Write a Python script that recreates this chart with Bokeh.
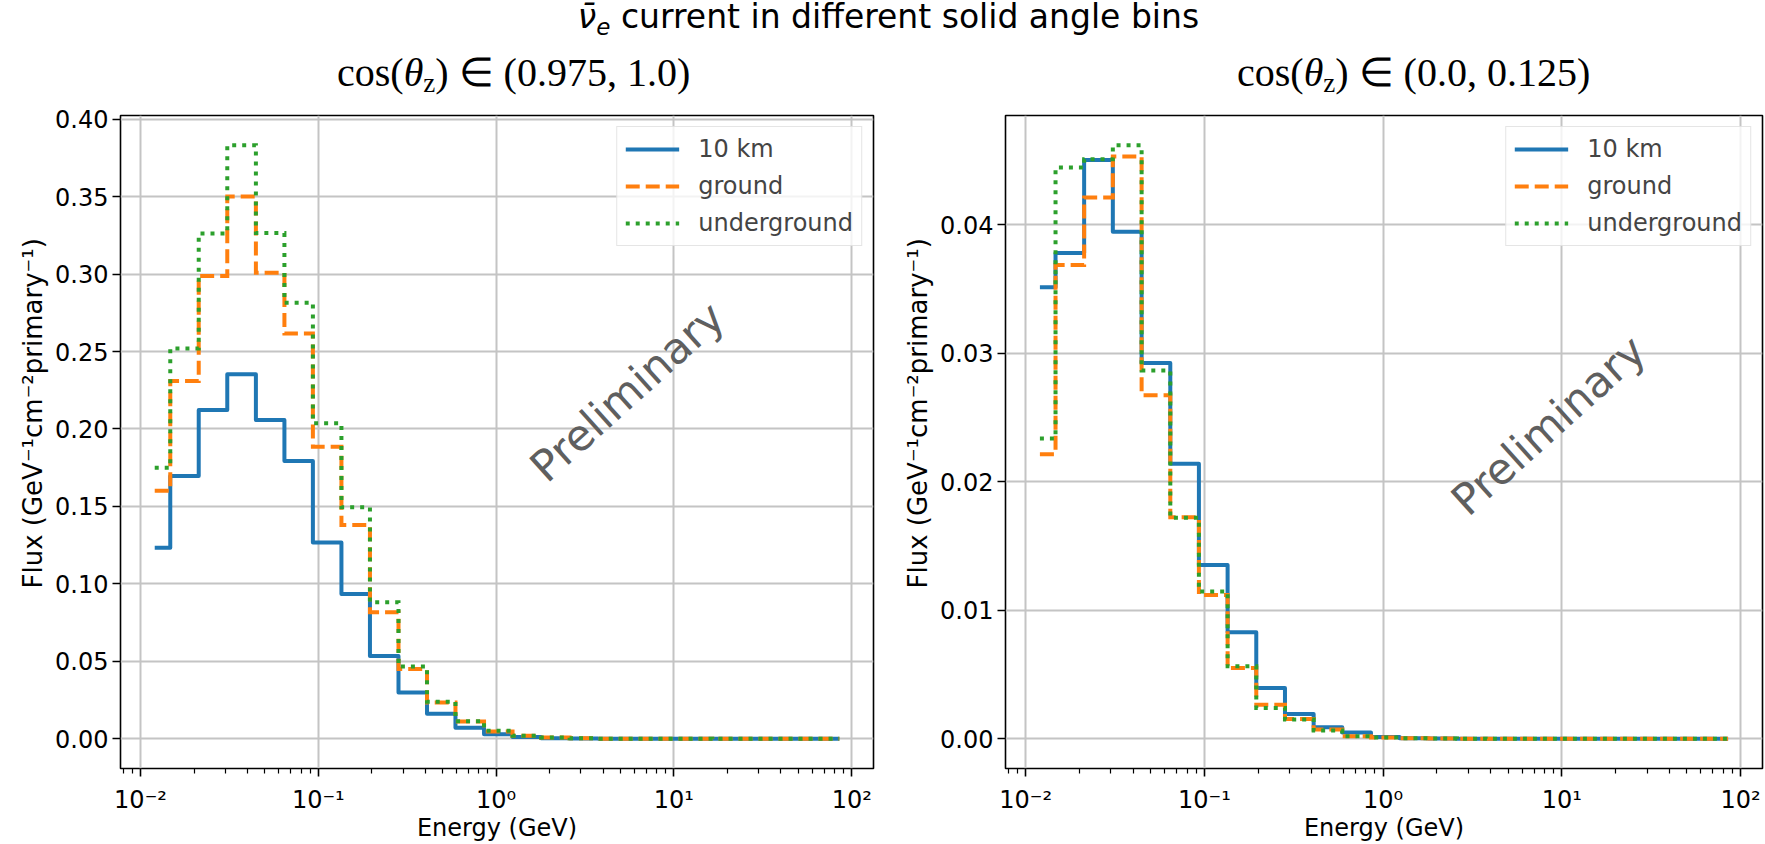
import math
from bokeh.plotting import figure
from bokeh.models import (Range1d, FixedTicker, NumeralTickFormatter, Legend,
                          LegendItem, Label, Div, Title)
from bokeh.layouts import row, column
from bokeh.embed import file_html
from bokeh.resources import INLINE

# ---------------- data ----------------
energy_gev = [0.01202, 0.01738, 0.02512, 0.03639, 0.05272, 0.07621, 0.1102,
              0.1596, 0.2307, 0.3342, 0.4831, 0.6982, 1.012, 1.462, 2.118,
              3.062, 4.426, 6.412, 9.268, 13.43, 19.41, 28.05, 40.64, 58.75,
              85.11]

series_names = ["10 km", "ground", "underground"]
series_colors = ["#1f77b4", "#ff7f0e", "#2ca02c"]
series_dashes = ["solid", "14 6", "4 6"]

# cos(theta_z) in (0.975, 1.0)
vert_10km = [0.1234, 0.1697, 0.2123, 0.2353, 0.2058, 0.1794, 0.1267, 0.0935,
             0.0535, 0.0299, 0.0162, 0.0071, 0.0030, 0.0011, 0.0004, 0.0002,
             0.0001, 0.00005, 0.00002, 0.00001, 0.0, 0.0, 0.0, 0.0, 0.0]
vert_ground = [0.1602, 0.2310, 0.2987, 0.3500, 0.3009, 0.2617, 0.1886, 0.1380,
               0.0817, 0.0450, 0.0234, 0.0112, 0.0047, 0.0019, 0.0008, 0.0003,
               0.0001, 0.00005, 0.00002, 0.00001, 0.0, 0.0, 0.0, 0.0, 0.0]
vert_under = [0.1750, 0.2520, 0.3262, 0.3832, 0.3265, 0.2815, 0.2037, 0.1495,
              0.0882, 0.0467, 0.0240, 0.0113, 0.0052, 0.0020, 0.0008, 0.0003,
              0.0001, 0.00005, 0.00002, 0.00001, 0.0, 0.0, 0.0, 0.0, 0.0]

# cos(theta_z) in (0.0, 0.125)
horiz_10km = [0.03514, 0.03780, 0.04505, 0.03946, 0.02924, 0.02140, 0.01353,
              0.00830, 0.00396, 0.00194, 0.00090, 0.00050, 0.00015, 0.00005,
              0.00002, 0.00001, 0.0, 0.0, 0.0, 0.0, 0.0, 0.0, 0.0, 0.0, 0.0]
horiz_ground = [0.02215, 0.03688, 0.04213, 0.04531, 0.02673, 0.01724, 0.01120,
                0.00551, 0.00266, 0.00155, 0.00072, 0.00020, 0.00010, 0.00004,
                0.00002, 0.00001, 0.0, 0.0, 0.0, 0.0, 0.0, 0.0, 0.0, 0.0, 0.0]
horiz_under = [0.02337, 0.04446, 0.04511, 0.04620, 0.02867, 0.01720, 0.01146,
               0.00564, 0.00240, 0.00150, 0.00064, 0.00020, 0.00010, 0.00004,
               0.00002, 0.00001, 0.0, 0.0, 0.0, 0.0, 0.0, 0.0, 0.0, 0.0, 0.0]

x_tick_values = [0.01, 0.1, 1.0, 10.0, 100.0]
x_tick_labels = ["10\u207b\u00b2", "10\u207b\u00b9", "10\u2070", "10\u00b9", "10\u00b2"]
y_ticks_vert = [0.0, 0.05, 0.10, 0.15, 0.20, 0.25, 0.30, 0.35, 0.40]
y_ticks_horiz = [0.0, 0.01, 0.02, 0.03, 0.04]

subtitle_ranges = ["(0.975, 1.0)", "(0.0, 0.125)"]
x_label = "Energy (GeV)"
y_label = "Flux (GeV\u207b\u00b9cm\u207b\u00b2primary\u207b\u00b9)"
watermark = "Preliminary"

FONT = "DejaVu Sans"
W1 = 885
W2 = 1765 - W1
FIG_H = 744

suptitle_html = ("<div style=\"width:1765px;text-align:center;font-family:'DejaVu Sans';"
                 "font-size:33px;line-height:33px;color:#000;white-space:nowrap;"
                 "padding-left:12px;box-sizing:border-box;\">"
                 "<span style=\"font-style:italic;\">\u03bd\u0304</span>"
                 "<span style=\"font-style:italic;font-size:23px;position:relative;top:7px;\">e</span>"
                 " current in different solid angle bins</div>")


def subtitle_html(rng, pad_left):
    return ("<div style=\"font-family:'Liberation Serif';font-size:40px;line-height:40px;"
            "padding-top:3px;padding-left:%dpx;white-space:nowrap;color:#000;\">"
            "cos(<i>\u03b8</i><span style=\"font-size:27px;position:relative;top:6px;\">z</span>)"
            "&nbsp;\u2208&nbsp;%s</div>" % (pad_left, rng))


def step_mid(x, y):
    xs, ys = [x[0]], [y[0]]
    for i in range(len(x) - 1):
        m = 0.5 * (x[i] + x[i + 1])
        xs += [m, m]
        ys += [y[i], y[i + 1]]
    xs.append(x[-1])
    ys.append(y[-1])
    return xs, ys


def make_panel(width, b_left, b_right, fluxes, y_ticks, prelim_xy):
    lo, hi = math.log10(energy_gev[0]), math.log10(energy_gev[-1])
    m = 0.05 * (hi - lo)
    ymax = max(max(f) for f in fluxes)
    p = figure(width=width, height=FIG_H, x_axis_type="log",
               x_range=Range1d(10 ** (lo - m), 10 ** (hi + m)),
               y_range=Range1d(-0.05 * ymax, 1.05 * ymax),
               output_backend="svg", toolbar_location=None,
               min_border_left=b_left, min_border_right=b_right,
               min_border_top=15, min_border_bottom=76,
               background_fill_color="white", border_fill_color="white")
    p.outline_line_color = "black"
    p.outline_line_width = 1.6

    minor = []
    for k in range(-3, 3):
        for s in range(2, 10):
            minor.append(s * 10.0 ** k)
    p.xaxis.ticker = FixedTicker(ticks=x_tick_values, minor_ticks=minor)
    p.xaxis.major_label_overrides = dict(zip(x_tick_values, x_tick_labels))
    p.yaxis.ticker = FixedTicker(ticks=y_ticks)
    p.yaxis.formatter = NumeralTickFormatter(format="0.00")

    for ax in (p.xaxis[0], p.yaxis[0]):
        ax.axis_line_color = None
        ax.major_tick_line_color = "black"
        ax.major_tick_line_width = 1.6
        ax.major_tick_out = 8
        ax.major_tick_in = 0
        ax.major_label_text_font = FONT
        ax.major_label_text_font_size = "24px"
        ax.major_label_text_color = "black"
        ax.axis_label_text_font = FONT
        ax.axis_label_text_font_size = "24px"
        ax.axis_label_text_font_style = "normal"
        ax.axis_label_text_color = "black"
    p.xaxis.minor_tick_line_color = "black"
    p.xaxis.minor_tick_line_width = 1.2
    p.xaxis.minor_tick_out = 5
    p.xaxis.minor_tick_in = 0
    p.yaxis.minor_tick_line_color = None
    p.xaxis.major_label_text_line_height = 1.0
    p.xaxis.axis_label_text_line_height = 0.6
    p.xaxis.major_label_standoff = 9
    p.yaxis.major_label_standoff = 4
    p.xaxis.axis_label_standoff = -3
    p.xaxis.axis_label = x_label

    ylab = Title(text=y_label, align="left", offset=180, text_font=FONT,
                 text_font_size="26px", text_font_style="normal",
                 text_color="black", standoff=10)
    p.add_layout(ylab, "left")

    p.grid.grid_line_color = "#c4c4c4"
    p.grid.grid_line_width = 2

    items = []
    for name, col, dash, f in zip(series_names, series_colors, series_dashes, fluxes):
        xs, ys = step_mid(energy_gev, f)
        r = p.line(xs, ys, line_color=col, line_width=4, line_dash=dash,
                   line_join="round" if dash == "solid" else "miter")
        items.append(LegendItem(label=name, renderers=[r]))

    leg = Legend(items=items, location="top_right", margin=11, padding=8,
                 spacing=9, glyph_width=54, glyph_height=28, label_height=28,
                 label_standoff=19, label_text_font=FONT,
                 label_text_font_size="24px", border_line_color="#cccccc",
                 border_line_width=1.5, background_fill_alpha=0.8)
    p.add_layout(leg)

    p.add_layout(Label(x=prelim_xy[0], y=prelim_xy[1], text=watermark, angle=42,
                       angle_units="deg", text_align="center",
                       text_baseline="middle", text_font=FONT,
                       text_font_size="43px", text_color="#5f5f5f"))
    return p


p1 = make_panel(W1, 120, W1 - 873, [vert_10km, vert_ground, vert_under],
                y_ticks_vert, (5.46, 0.224))
p2 = make_panel(W2, 1005 - W1, 3, [horiz_10km, horiz_ground, horiz_under],
                y_ticks_horiz, (8.4, 0.0244))

title_div = Div(text=suptitle_html, width=1765, height=50, margin=(0, 0, 0, 0))
sub1 = Div(text=subtitle_html(subtitle_ranges[0], 337), width=W1, height=50,
           margin=(0, 0, 0, 0))
sub2 = Div(text=subtitle_html(subtitle_ranges[1], 1237 - W1), width=W2, height=50,
           margin=(0, 0, 0, 0))

layout = column(title_div, row(sub1, sub2), row(p1, p2))
open("out.html", "w").write(file_html(layout, INLINE))
